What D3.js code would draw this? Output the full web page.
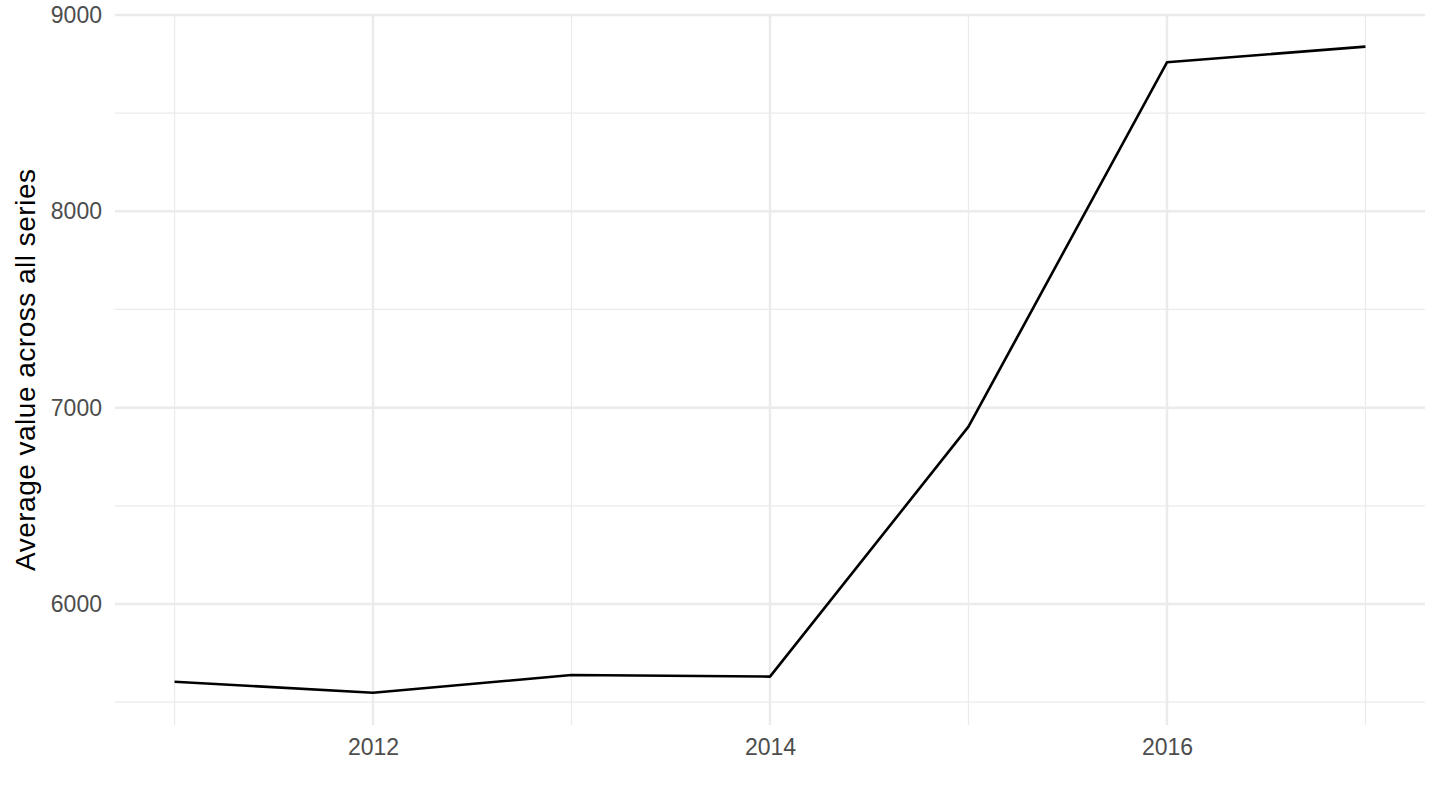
<!DOCTYPE html>
<html>
<head>
<meta charset="utf-8">
<script src="https://cdn.jsdelivr.net/npm/d3@7"></script>
<style>
  html, body { margin: 0; padding: 0; background: #fff; }
  svg { display: block; font-family: "Liberation Sans", Arial, sans-serif; }
</style>
</head>
<body>
<svg id="chart" width="1440" height="810"></svg>
<script>
const years = [2011, 2012, 2013, 2014, 2015, 2016, 2017];
const values = [5604, 5548, 5638, 5630, 6903, 8759, 8839];
const xMajorTicks = [2012, 2014, 2016];
const xMinorTicks = [2011, 2013, 2015, 2017];
const yMajorTicks = [6000, 7000, 8000, 9000];
const yMinorTicks = [5500, 6500, 7500, 8500];
const yTitle = "Average value across all series";

const W = 1440, H = 810;
const margin = { left: 115, right: 15, top: 14.3, bottom: 85 };
const svg = d3.select("#chart");

const xExt = d3.extent(years), xPad = (xExt[1] - xExt[0]) * 0.05;
const yExt = d3.extent(values), yPad = (yExt[1] - yExt[0]) * 0.05;

const x = d3.scaleLinear().domain([xExt[0] - xPad, xExt[1] + xPad]).range([margin.left, W - margin.right]);
const y = d3.scaleLinear().domain([yExt[0] - yPad, yExt[1] + yPad]).range([H - margin.bottom, margin.top]);

const grid = svg.append("g");
const [x0, x1] = x.range(), [y0, y1] = y.range();

grid.selectAll(".ymin").data(yMinorTicks).join("line")
  .attr("x1", x0).attr("x2", x1).attr("y1", d => y(d)).attr("y2", d => y(d))
  .attr("stroke", "#EBEBEB").attr("stroke-width", 1.25);
grid.selectAll(".xmin").data(xMinorTicks).join("line")
  .attr("y1", y0).attr("y2", y1).attr("x1", d => x(d)).attr("x2", d => x(d))
  .attr("stroke", "#EBEBEB").attr("stroke-width", 1.25);
grid.selectAll(".ymaj").data(yMajorTicks).join("line")
  .attr("x1", x0).attr("x2", x1).attr("y1", d => y(d)).attr("y2", d => y(d))
  .attr("stroke", "#EBEBEB").attr("stroke-width", 2.5);
grid.selectAll(".xmaj").data(xMajorTicks).join("line")
  .attr("y1", y0).attr("y2", y1).attr("x1", d => x(d)).attr("x2", d => x(d))
  .attr("stroke", "#EBEBEB").attr("stroke-width", 2.5);

// axes (labels only, no lines)
const xAxis = d3.axisBottom(x).tickValues(xMajorTicks).tickFormat(d3.format("d")).tickSize(0).tickPadding(14);
const gx = svg.append("g").attr("transform", `translate(0,${y0})`).call(xAxis);
gx.select(".domain").remove();
gx.selectAll("text").attr("fill", "#4D4D4D").attr("font-size", 23).attr("dy", "0.71em")
  .style("font-family", '"Liberation Sans", Arial, sans-serif');

const yAxis = d3.axisLeft(y).tickValues(yMajorTicks).tickFormat(d3.format("d")).tickSize(0).tickPadding(13);
const gy = svg.append("g").attr("transform", `translate(${x0},0)`).call(yAxis);
gy.select(".domain").remove();
gy.selectAll("text").attr("fill", "#4D4D4D").attr("font-size", 23)
  .style("font-family", '"Liberation Sans", Arial, sans-serif');

// line
const line = d3.line().x((d, i) => x(years[i])).y(d => y(d));
svg.append("path").datum(values).attr("d", line)
  .attr("fill", "none").attr("stroke", "#000").attr("stroke-width", 2.6)
  .attr("stroke-linejoin", "round");

// y title
svg.append("text")
  .attr("transform", `translate(34.5,370) rotate(-90)`)
  .attr("text-anchor", "middle")
  .attr("font-size", 28).attr("fill", "#000")
  .attr("textLength", 402).attr("lengthAdjust", "spacing")
  .text(yTitle);
</script>
</body>
</html>
